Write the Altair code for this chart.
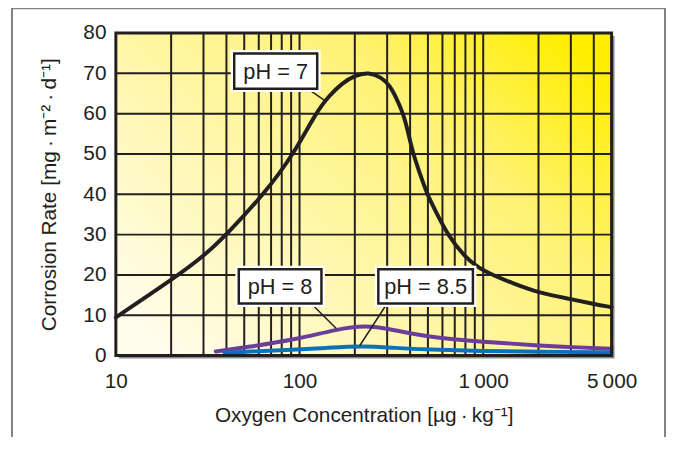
import altair as alt
import pandas as pd
import math

# ---------------- data ----------------
ph7_x = [10, 20, 30, 40, 64, 93, 122, 145, 170, 200, 238, 280, 310, 340, 367, 390, 415, 450, 494, 560, 640,
         790, 1000, 1500, 2000, 3000, 4000, 5000]
ph7_y = [9.5, 18.7, 24.6, 30, 40, 50, 60, 64.5, 67.5, 69.5, 70.3, 69.0, 67.0, 63.5, 60, 55.5, 50, 45.5, 40, 35.2, 30,
         24.5, 20.8, 17.7, 15.6, 14.0, 12.8, 12.0]

ph8_x = [35, 52, 96, 158, 230, 332, 500, 1000, 2000, 3000, 5000]
ph8_y = [1.0, 2.1, 4.0, 6.5, 7.6, 6.3, 4.6, 3.4, 2.5, 2.1, 1.7]

ph85_x = [39, 90, 140, 220, 332, 500, 1000, 2000, 5000]
ph85_y = [0.7, 1.45, 1.9, 2.4, 1.9, 1.5, 1.1, 0.95, 0.8]

series_names = ["pH = 7", "pH = 8", "pH = 8.5"]
series_colors = ["#231f20", "#6a3d9a", "#0b72ba"]

x_ticks = [10, 100, 1000, 5000]
x_tick_labels = ["10", "100", "1\u2009000", "5\u2009000"]
y_ticks = [0, 10, 20, 30, 40, 50, 60, 70, 80]
x_grid = [20, 30, 40, 50, 60, 70, 80, 90, 100, 200, 300, 400, 500, 600, 700, 800, 900, 1000, 2000, 3000, 4000]
y_grid = [10, 20, 30, 40, 50, 60, 70]

# label boxes and leader lines (data coordinates)
box_x0 = [44.1, 46.7, 268.5]
box_x1 = [124.8, 131.6, 879]
box_y0 = [66.2, 12.9, 12.9]
box_y1 = [74.9, 21.4, 21.4]
lead_x0 = [112, 116.4, 298.5]
lead_y0 = [66.0, 12.8, 12.8]
lead_x1 = [140, 158.5, 213]
lead_y1 = [63.0, 6.7, 2.5]

# ---------------- build ----------------
FONT = "Liberation Sans"
INK = "#231f20"

xs = alt.Scale(type="log", domain=[10, 5000], nice=False)
ys = alt.Scale(domain=[0, 80], nice=False, zero=False)

label_expr = ""
for v, l in zip(x_ticks, x_tick_labels):
    label_expr += f"datum.value == {v} ? '{l}' : "
label_expr += "''"

x_axis = alt.Axis(values=x_ticks, labelExpr=label_expr, title="Oxygen Concentration [\u00b5g\u2009\u00b7\u2009kg\u207b\u00b9]",
                  grid=False, ticks=False, domain=False, labelFlush=False,
                  labelFont=FONT, labelFontSize=21, labelColor=INK, labelPadding=15,
                  titleFont=FONT, titleFontSize=21, titleFontWeight="normal", titleColor=INK, titlePadding=14)
y_axis = alt.Axis(values=y_ticks, title="Corrosion Rate  [mg\u2009\u00b7\u2009m\u207b\u00b2\u2009\u00b7\u2009d\u207b\u00b9]",
                  grid=False, ticks=False, domain=False,
                  labelFont=FONT, labelFontSize=21, labelColor=INK, labelPadding=10,
                  titleFont=FONT, titleFontSize=21, titleFontWeight="normal", titleColor=INK, titlePadding=24)


def X(f):
    return alt.X(f, type="quantitative", scale=xs, axis=x_axis)


def Y(f):
    return alt.Y(f, type="quantitative", scale=ys, axis=y_axis)


area = pd.DataFrame({"x0": [10], "x1": [5000], "y0": [0], "y1": [80]})

outer = alt.Chart(area).mark_rect(fillOpacity=0, stroke="#808080", strokeWidth=2).encode(
    x=alt.value(-105), x2=alt.value(555), y=alt.value(-25), y2=alt.value(520))

shadow = alt.Chart(area).mark_rect(fill="#8c8c8c", xOffset=3, x2Offset=3, yOffset=3, y2Offset=3).encode(
    x=X("x0"), x2="x1", y=Y("y0"), y2="y1")

grad = alt.Gradient(gradient="linear",
                    stops=[alt.GradientStop(color="#fffdec", offset=0),
                           alt.GradientStop(color="#fff6a6", offset=0.4),
                           alt.GradientStop(color="#fff274", offset=0.7),
                           alt.GradientStop(color="#ffee00", offset=1)],
                    x1=0, y1=0.85, x2=1, y2=0.15)
bg = alt.Chart(area).mark_rect(color=grad).encode(x=X("x0"), x2="x1", y=Y("y0"), y2="y1")

vgrid = alt.Chart(pd.DataFrame({"v": x_grid})).mark_rule(color=INK, strokeWidth=2).encode(x=X("v"))
hgrid = alt.Chart(pd.DataFrame({"v": y_grid})).mark_rule(color=INK, strokeWidth=2).encode(y=Y("v"))

frame = alt.Chart(area).mark_rect(fillOpacity=0, stroke=INK, strokeWidth=3).encode(
    x=X("x0"), x2="x1", y=Y("y0"), y2="y1")

rows = []
for name, xv, yv in zip(series_names, [ph7_x, ph8_x, ph85_x], [ph7_y, ph8_y, ph85_y]):
    for i, (a, b) in enumerate(zip(xv, yv)):
        rows.append({"series": name, "x": a, "y": b, "order": i})
curves_df = pd.DataFrame(rows)

curves = alt.Chart(curves_df).mark_line(strokeWidth=4, interpolate="basis", strokeCap="round").encode(
    x=X("x"), y=Y("y"),
    color=alt.Color("series:N", scale=alt.Scale(domain=series_names, range=series_colors), legend=None),
    order="order:Q", detail="series:N")

lead_df = pd.DataFrame({"x0": lead_x0, "y0": lead_y0, "x1": lead_x1, "y1": lead_y1})
leaders = alt.Chart(lead_df).mark_rule(color=INK, strokeWidth=1.5).encode(
    x=X("x0"), y=Y("y0"), x2="x1", y2="y1")

box_df = pd.DataFrame({"name": series_names, "x0": box_x0, "x1": box_x1, "y0": box_y0, "y1": box_y1})
box_df["xc"] = [math.sqrt(a * b) for a, b in zip(box_x0, box_x1)]
box_df["yc"] = [(a + b) / 2 for a, b in zip(box_y0, box_y1)]

halo = alt.Chart(box_df).mark_rect(fill="white", stroke="white", strokeWidth=7).encode(
    x=X("x0"), x2="x1", y=Y("y0"), y2="y1")
boxes = alt.Chart(box_df).mark_rect(fill="white", stroke=INK, strokeWidth=2.5).encode(
    x=X("x0"), x2="x1", y=Y("y0"), y2="y1")
texts = alt.Chart(box_df).mark_text(font=FONT, fontSize=22, color=INK, align="center", baseline="middle", dy=1).encode(
    x=X("xc"), y=Y("yc"), text="name:N")

chart = alt.layer(outer, shadow, bg, vgrid, hgrid, curves, frame, leaders, halo, boxes, texts).properties(
    width=501, height=326,
    padding={"left": 109, "top": 23, "right": 56, "bottom": 80},
    autosize=alt.AutoSizeParams(type="none"),
).configure_view(stroke=None).configure(background="white")

chart.save("out.html", embed_options={"renderer": "svg", "actions": False})
